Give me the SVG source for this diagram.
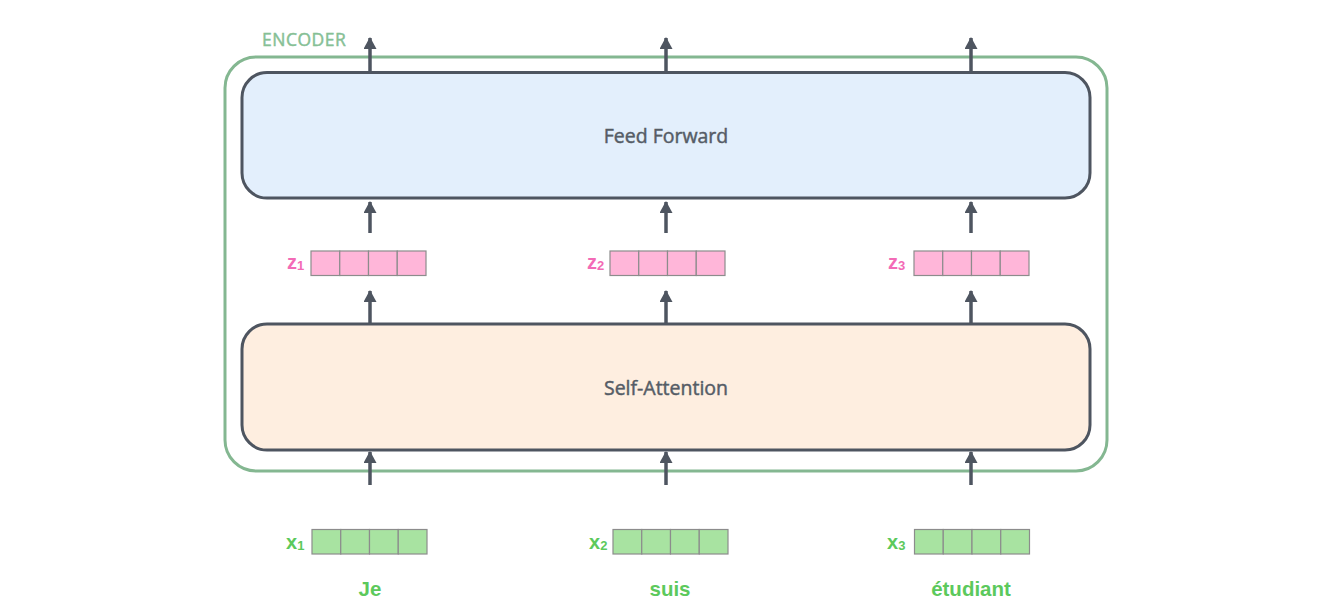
<svg xmlns="http://www.w3.org/2000/svg" width="1334" height="612" viewBox="0 0 1334 612">
<style>
.box{stroke:#4e5560;stroke-width:3}
.lbl{font-family:"Open Sans","Noto Sans",sans-serif;font-size:19.5px;fill:#555c66;stroke:#555c66;stroke-width:0.45px;text-anchor:middle}
.enc{font-family:"Open Sans","Noto Sans",sans-serif;font-size:17.5px;fill:#86c095;stroke:#86c095;stroke-width:0.45px;letter-spacing:0.5px}
.arr{stroke:#4e5560;stroke-width:3.5;fill:none;marker-end:url(#ah)}
.zc{fill:#ffb6d9;stroke:#8c8c8c;stroke-width:1.2}
.xc{fill:#a8e3a1;stroke:#8c8c8c;stroke-width:1.2}
.zl{font-family:"Liberation Sans",Arial,sans-serif;font-weight:bold;fill:#f36bb6;font-size:20px}
.xl{font-family:"Liberation Sans",Arial,sans-serif;font-weight:bold;fill:#5cc95c;font-size:20px}
.sub{font-size:13px}
.word{font-family:"Liberation Sans",Arial,sans-serif;font-weight:bold;fill:#5cc95c;font-size:20.5px;text-anchor:middle}
</style>
<defs>
<marker id="ah" viewBox="0 0 12 13" refX="11" refY="6.5" markerWidth="12" markerHeight="13" markerUnits="userSpaceOnUse" orient="auto">
<path d="M0,0 L12,6.5 L0,13 Z" fill="#4e5560"/>
</marker>
<g id="cells">
<rect x="0" y="0" width="28.75" height="24.5"/>
<rect x="28.75" y="0" width="28.75" height="24.5"/>
<rect x="57.5" y="0" width="28.75" height="24.5"/>
<rect x="86.25" y="0" width="28.75" height="24.5"/>
</g>
</defs>
<g id="encoder">
<rect x="225" y="57" width="882" height="414" rx="31" ry="31" fill="none" stroke="#84b791" stroke-width="3"/>
<text class="enc" x="262" y="46">ENCODER</text>
</g>
<g id="connectors">
<line class="arr" x1="370" y1="72" x2="370" y2="38"/>
<line class="arr" x1="666" y1="72" x2="666" y2="38"/>
<line class="arr" x1="971" y1="72" x2="971" y2="38"/>
<line class="arr" x1="370" y1="233" x2="370" y2="202"/>
<line class="arr" x1="666" y1="233" x2="666" y2="202"/>
<line class="arr" x1="971" y1="233" x2="971" y2="202"/>
<line class="arr" x1="370" y1="324" x2="370" y2="291"/>
<line class="arr" x1="666" y1="324" x2="666" y2="291"/>
<line class="arr" x1="971" y1="324" x2="971" y2="291"/>
<line class="arr" x1="370" y1="485" x2="370" y2="452"/>
<line class="arr" x1="666" y1="485" x2="666" y2="452"/>
<line class="arr" x1="971" y1="485" x2="971" y2="452"/>
</g>
<g id="feed-forward">
<rect class="box" x="242" y="72.5" width="848" height="125.5" rx="25" ry="25" fill="#e3effc"/>
<text class="lbl" x="666" y="143">Feed Forward</text>
</g>
<g id="self-attention">
<rect class="box" x="242" y="324" width="848" height="126" rx="25" ry="25" fill="#feeee0"/>
<text class="lbl" x="666" y="395">Self-Attention</text>
</g>
<g id="z1">
<use href="#cells" class="zc" x="311" y="251"/>
<text class="zl" x="287" y="269">z<tspan class="sub" dy="1">1</tspan></text>
</g>
<g id="z2">
<use href="#cells" class="zc" x="610" y="251"/>
<text class="zl" x="587" y="269">z<tspan class="sub" dy="1">2</tspan></text>
</g>
<g id="z3">
<use href="#cells" class="zc" x="914" y="251"/>
<text class="zl" x="888" y="269">z<tspan class="sub" dy="1">3</tspan></text>
</g>
<g id="x1">
<use href="#cells" class="xc" x="312" y="529.5"/>
<text class="xl" x="286" y="549">x<tspan class="sub" dy="1">1</tspan></text>
<text class="word" x="370" y="596">Je</text>
</g>
<g id="x2">
<use href="#cells" class="xc" x="613" y="529.5"/>
<text class="xl" x="589" y="549">x<tspan class="sub" dy="1">2</tspan></text>
<text class="word" x="670" y="596">suis</text>
</g>
<g id="x3">
<use href="#cells" class="xc" x="914.5" y="529.5"/>
<text class="xl" x="887" y="549">x<tspan class="sub" dy="1">3</tspan></text>
<text class="word" x="971" y="596">étudiant</text>
</g>
</svg>
